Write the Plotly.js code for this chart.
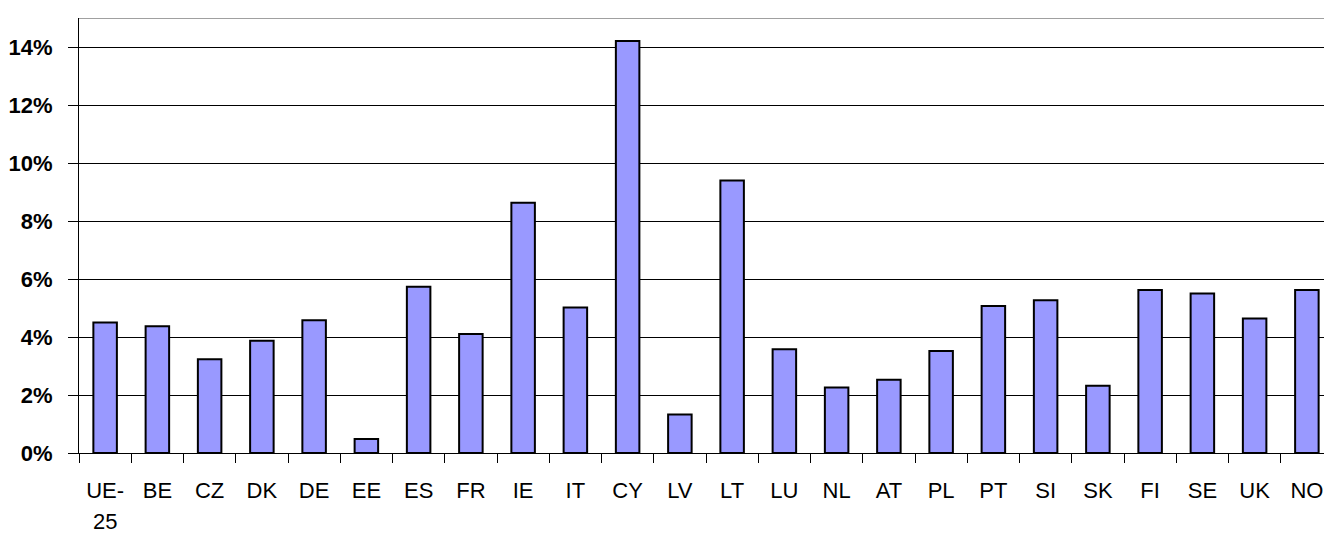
<!DOCTYPE html>
<html>
<head>
<meta charset="utf-8">
<script src="https://cdn.plot.ly/plotly-3.0.1.min.js"></script>
<style>
  html, body { margin: 0; padding: 0; overflow: hidden; background: #fff; }
  #chart { width: 1340px; height: 534px; }
</style>
</head>
<body>
<div id="chart"></div>
<script>
// Country codes in display order
const categories = ["UE-25", "BE", "CZ", "DK", "DE", "EE", "ES", "FR", "IE", "IT", "CY", "LV",
                    "LT", "LU", "NL", "AT", "PL", "PT", "SI", "SK", "FI", "SE", "UK", "NO"];

// Rate per country, in percent
const ratePct = [4.50, 4.37, 3.23, 3.87, 4.58, 0.48, 5.73, 4.10, 8.63, 5.02, 14.21, 1.33,
                 9.40, 3.58, 2.26, 2.53, 3.52, 5.07, 5.27, 2.32, 5.62, 5.50, 4.64, 5.62];

// Y axis ticks
const yTickVals = [0, 0.02, 0.04, 0.06, 0.08, 0.10, 0.12, 0.14];
const yTickText = ["0%", "2%", "4%", "6%", "8%", "10%", "12%", "14%"];

const yValues = ratePct.map(v => v / 100);

// Hyphenated codes wrap after the hyphen; the remainder goes on a second line
const firstLines = categories.map(c => c.includes("-") ? c.slice(0, c.indexOf("-") + 1) : c);
const secondLines = categories.map(c => c.includes("-") ? c.slice(c.indexOf("-") + 1) : "");

const fontFamily = "'Liberation Sans', Arial, sans-serif";

const trace = {
  type: "bar",
  x: categories,
  y: yValues,
  marker: { color: "#9999FF", line: { color: "#000000", width: 2 } },
  hoverinfo: "x+y"
};

const annotations = [];
categories.forEach((c, i) => {
  if (secondLines[i]) {
    annotations.push({
      x: c, xref: "x", y: 0, yref: "paper", yshift: -68,
      text: secondLines[i], showarrow: false, borderpad: 0,
      xanchor: "center", yanchor: "middle",
      font: { family: fontFamily, size: 22, color: "#000" }
    });
  }
});

const layout = {
  width: 1340,
  height: 534,
  margin: { l: 79, r: 7, t: 18, b: 81 },
  paper_bgcolor: "#ffffff",
  plot_bgcolor: "#ffffff",
  showlegend: false,
  bargap: 0.55,
  xaxis: {
    type: "category",
    categoryorder: "array",
    categoryarray: categories,
    tickmode: "array",
    tickvals: categories,
    ticktext: firstLines,
    tickson: "boundaries",
    ticks: "outside",
    ticklen: 9,
    tickwidth: 1,
    tickcolor: "#000",
    showgrid: false,
    showline: true,
    linecolor: "#000",
    linewidth: 1,
    ticklabelstandoff: 18,
    tickfont: { family: fontFamily, size: 22, color: "#000" },
    fixedrange: true
  },
  yaxis: {
    range: [0, 0.15],
    tickmode: "array",
    tickvals: yTickVals,
    ticktext: yTickText,
    ticks: "outside",
    ticklen: 10,
    tickwidth: 1,
    tickcolor: "#000",
    showgrid: true,
    gridcolor: "#000",
    gridwidth: 1,
    zeroline: false,
    showline: true,
    linecolor: "#000",
    linewidth: 1,
    ticklabelstandoff: 11,
    tickfont: { family: fontFamily, size: 22, color: "#000", weight: "bold" },
    fixedrange: true
  },
  shapes: [
    // plot frame top edge
    { type: "line", xref: "paper", yref: "y", x0: 0, x1: 1, y0: 0.15, y1: 0.15,
      line: { color: "#808080", width: 1.5 } }
  ],
  annotations: annotations
};

Plotly.newPlot("chart", [trace], layout, { displayModeBar: false, staticPlot: true });
</script>
</body>
</html>
